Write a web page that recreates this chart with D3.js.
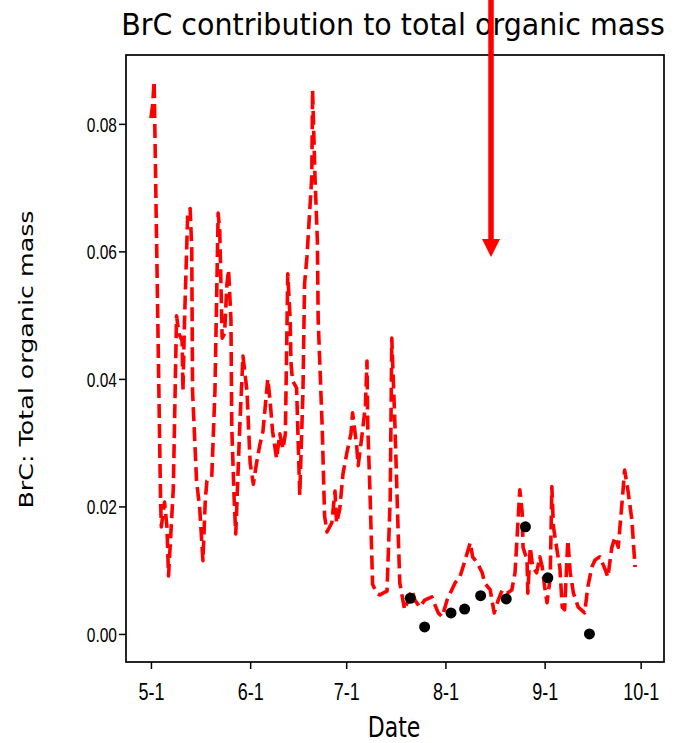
<!DOCTYPE html>
<html>
<head>
<meta charset="utf-8">
<script src="https://cdn.jsdelivr.net/npm/d3@7"></script>
<style>
  body { margin: 0; background: #fff; }
  svg { display: block; font-family: "DejaVu Sans", sans-serif; }
  .axis path { display: none; }
  .axis line { stroke: #000; stroke-width: 1.5; }
  .axis text { fill: #000; }
</style>
</head>
<body>
<svg id="chart" width="698" height="743"></svg>
<script>
// BrC : total organic mass, model line (dashed) and observations (dots)
const lineDates = [
  "05-01 00","05-01 12","05-02 00","05-04 00","05-04 06","05-05 06","05-06 00","05-06 12","05-08 00","05-09 00",
  "05-09 18","05-10 18","05-11 00","05-11 12","05-12 12","05-13 06","05-13 18","05-14 00","05-15 06","05-16 06",
  "05-17 06","05-18 00","05-18 12","05-20 00","05-21 00","05-22 00","05-22 12","05-23 06","05-24 00","05-24 18",
  "05-25 06","05-26 00","05-26 06","05-27 00","05-27 12","05-28 18","05-29 18","05-31 00","06-01 00","06-02 00",
  "06-03 00","06-04 00","06-05 00","06-06 12","06-07 06","06-08 00","06-09 06","06-10 06","06-11 06","06-12 00",
  "06-12 18","06-13 12","06-13 18","06-14 06","06-15 12","06-16 12","06-17 12","06-18 00","06-18 18","06-20 06",
  "06-20 12","06-21 06","06-22 00","06-22 06","06-23 12","06-24 06","06-25 00","06-26 12","06-27 12","06-28 00",
  "06-29 00","06-30 00","07-01 06","07-02 12","07-03 00","07-04 06","07-04 18","07-06 00","07-07 00","07-07 12",
  "07-07 18","07-08 12","07-09 06","07-10 12","07-11 12","07-12 12","07-13 18","07-14 18","07-15 06","07-16 06",
  "07-17 06","07-17 18","07-19 06","07-21 12","07-22 12","07-24 00","07-25 12","07-27 18","07-29 18","07-31 00",
  "08-01 12","08-02 12","08-04 00","08-05 12","08-06 12","08-08 18","08-09 12","08-11 00","08-12 12","08-13 06",
  "08-15 00","08-16 06","08-17 12","08-18 18","08-20 06","08-21 18","08-22 18","08-24 06","08-25 00","08-25 06",
  "08-26 12","08-26 18","08-27 12","08-28 06","08-29 12","08-30 12","08-31 06","09-01 00","09-01 18","09-02 18",
  "09-03 06","09-03 18","09-05 00","09-05 18","09-06 12","09-07 06","09-08 06","09-09 00","09-10 00","09-11 12",
  "09-13 12","09-14 12","09-15 18","09-16 18","09-18 06","09-20 00","09-20 18","09-22 00","09-23 00","09-24 00",
  "09-25 06","09-26 00","09-27 00","09-28 06","09-29 06"
];
const lineValues = [
  0.0809,0.0828,0.0867,0.0212,0.0168,0.0207,0.0168,0.0091,0.0229,0.0499,
  0.0471,0.0460,0.0381,0.0493,0.0660,0.0667,0.0604,0.0381,0.0240,0.0196,
  0.0115,0.0212,0.0240,0.0246,0.0381,0.0660,0.0632,0.0464,0.0471,0.0549,
  0.0571,0.0493,0.0325,0.0212,0.0157,0.0325,0.0436,0.0381,0.0268,0.0235,
  0.0268,0.0296,0.0318,0.0400,0.0364,0.0318,0.0275,0.0314,0.0290,0.0314,
  0.0565,0.0493,0.0425,0.0397,0.0386,0.0218,0.0381,0.0549,0.0592,0.0717,
  0.0853,0.0717,0.0616,0.0493,0.0325,0.0185,0.0160,0.0174,0.0224,0.0174,
  0.0196,0.0251,0.0285,0.0314,0.0347,0.0296,0.0264,0.0314,0.0358,0.0428,
  0.0325,0.0212,0.0078,0.0064,0.0061,0.0064,0.0067,0.0212,0.0464,0.0325,
  0.0157,0.0080,0.0038,0.0069,0.0053,0.0042,0.0053,0.0058,0.0033,0.0027,
  0.0053,0.0064,0.0080,0.0089,0.0105,0.0143,0.0121,0.0111,0.0096,0.0080,
  0.0069,0.0033,0.0053,0.0069,0.0064,0.0069,0.0096,0.0226,0.0190,0.0136,
  0.0116,0.0064,0.0136,0.0105,0.0096,0.0121,0.0105,0.0074,0.0049,0.0089,
  0.0231,0.0168,0.0127,0.0105,0.0042,0.0038,0.0147,0.0096,0.0064,0.0042,
  0.0033,0.0074,0.0105,0.0116,0.0121,0.0100,0.0089,0.0136,0.0152,0.0136,
  0.0210,0.0257,0.0226,0.0179,0.0105
];
const dotDates = ["07-21 00","07-25 12","08-02 18","08-07 00","08-12 00","08-20 00","08-26 00","09-02 00","09-15 00"];
const dotValues = [0.0056,0.0011,0.0033,0.0039,0.0060,0.0055,0.0168,0.0088,0.0000];
const xTickDates = ["05-01 00","06-01 00","07-01 00","08-01 00","09-01 00","10-01 00"];
const yTickValues = [0.00, 0.02, 0.04, 0.06, 0.08];
const xDomainDates = ["04-23 05","10-08 07"];
const yDomain = [-0.0044, 0.0908];
// arrow annotation, tip position
const arrowDate = "08-15 06";
const arrowValue = 0.0591;

const parse = d3.utcParse("%m-%d %H");
const lineData = lineDates.map((d, i) => ({ date: parse(d), value: lineValues[i] }));
const dotData = dotDates.map((d, i) => ({ date: parse(d), value: dotValues[i] }));

// Chart dimensions
const width = 698;
const height = 743;
const margin = { top: 55, right: 34, bottom: 81, left: 126 };
const innerWidth = width - margin.left - margin.right;
const innerHeight = height - margin.top - margin.bottom;
const stretch = 1.3; // text in the source image is taller than it is wide

const xScale = d3.scaleUtc()
  .domain(xDomainDates.map(parse))
  .range([0, innerWidth]);

const yScale = d3.scaleLinear()
  .domain(yDomain)
  .range([innerHeight, 0]);

const svg = d3.select("#chart");
svg.append("rect").attr("width", width).attr("height", height).attr("fill", "#fff");

const g = svg.append("g")
  .attr("transform", `translate(${margin.left}, ${margin.top})`);

// dashed model line
const line = d3.line()
  .x(d => xScale(d.date))
  .y(d => yScale(d.value));

g.append("path")
  .datum(lineData)
  .attr("fill", "none")
  .attr("stroke", "#ff0000")
  .attr("stroke-width", 3.6)
  .attr("stroke-dasharray", "14,6")
  .attr("stroke-linejoin", "round")
  .attr("d", line);

// observations
g.selectAll("circle.obs")
  .data(dotData)
  .enter()
  .append("circle")
  .attr("class", "obs")
  .attr("cx", d => xScale(d.date))
  .attr("cy", d => yScale(d.value))
  .attr("r", 5.5)
  .attr("fill", "#000");

// axes
const xAxis = d3.axisBottom(xScale)
  .tickValues(xTickDates.map(parse))
  .tickFormat(d3.utcFormat("%-m-%-d"))
  .tickSizeInner(7)
  .tickSizeOuter(0);

const yAxis = d3.axisLeft(yScale)
  .tickValues(yTickValues)
  .tickFormat(d3.format(".2f"))
  .tickSizeInner(7)
  .tickSizeOuter(0);

g.append("g")
  .attr("class", "axis x-axis")
  .attr("transform", `translate(0, ${innerHeight})`)
  .call(xAxis)
  .selectAll("text")
  .attr("font-size", 18)
  .attr("y", 0)
  .attr("dy", "0.73em")
  .attr("transform", `translate(0, 21) scale(1, ${stretch})`);

g.append("g")
  .attr("class", "axis y-axis")
  .call(yAxis)
  .selectAll("text")
  .attr("font-size", 15.5)
  .attr("x", 0)
  .attr("dy", "0.36em")
  .attr("transform", `translate(-9, 0) scale(1, ${stretch})`);

// frame
g.append("rect")
  .attr("width", innerWidth)
  .attr("height", innerHeight)
  .attr("fill", "none")
  .attr("stroke", "#000")
  .attr("stroke-width", 1.7);

// labels
svg.append("text")
  .attr("transform", `translate(${margin.left + innerWidth / 2 - 2}, 35) scale(1, 1.05)`)
  .attr("text-anchor", "middle")
  .attr("font-size", 28.5)
  .text("BrC contribution to total organic mass");

svg.append("text")
  .attr("transform", `translate(${margin.left + innerWidth / 2 - 1}, 737) scale(1, ${stretch})`)
  .attr("text-anchor", "middle")
  .attr("font-size", 22)
  .text("Date");

svg.append("text")
  .attr("transform", `translate(33, ${margin.top + innerHeight / 2 + 1}) rotate(-90) scale(${stretch}, 1)`)
  .attr("text-anchor", "middle")
  .attr("font-size", 19.5)
  .text("BrC: Total organic mass");

// red arrow pointing down from the top edge
const ax = margin.left + xScale(parse(arrowDate));
const ay = margin.top + yScale(arrowValue);
svg.append("line")
  .attr("x1", ax).attr("x2", ax)
  .attr("y1", 0).attr("y2", ay - 16)
  .attr("stroke", "#ff0000")
  .attr("stroke-width", 5.5);
svg.append("path")
  .attr("d", `M${ax - 9},${ay - 18} L${ax + 9},${ay - 18} L${ax},${ay} Z`)
  .attr("fill", "#ff0000");
</script>
</body>
</html>
